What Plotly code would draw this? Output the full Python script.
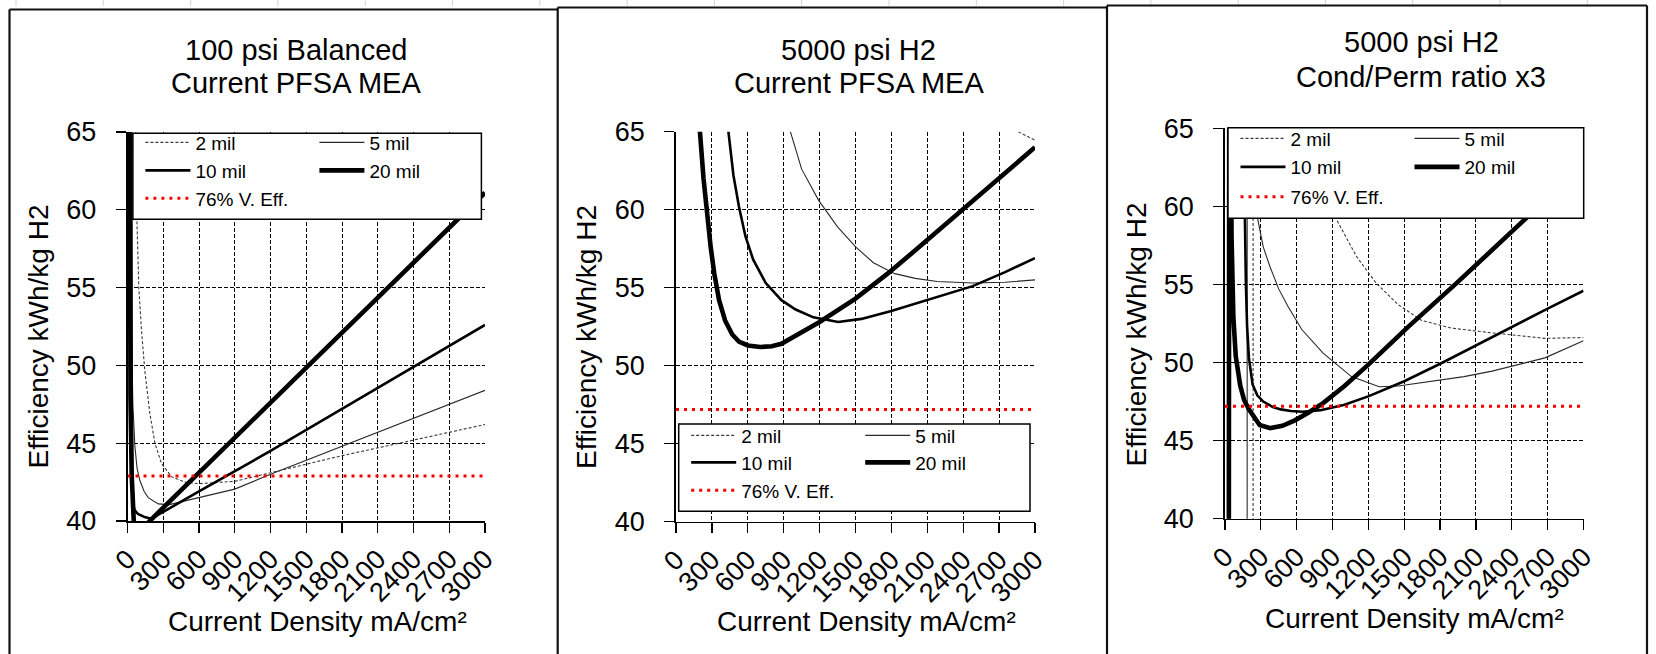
import plotly.graph_objects as go

W, H = 1656, 654
FONT = "Liberation Sans, Arial, sans-serif"

# ---------------- data ----------------
CURRENT_TICKS = [0, 300, 600, 900, 1200, 1500, 1800, 2100, 2400, 2700, 3000]
EFF_TICKS = [40, 45, 50, 55, 60, 65]
SERIES_NAMES = ["2 mil", "5 mil", "10 mil", "20 mil"]
REF_NAME = "76% V. Eff."
PANEL_TITLE_LINE1 = ["100 psi Balanced", "5000 psi H2", "5000 psi H2"]
PANEL_TITLE_LINE2 = ["Current PFSA MEA", "Current PFSA MEA", "Cond/Perm ratio x3"]
X_TITLE = "Current Density mA/cm\u00b2"
Y_TITLE = "Efficiency kWh/kg H2"

# Panel 1: 100 psi balanced, current PFSA MEA
P1_2MIL_I = [40, 60, 70, 79, 95, 117, 146, 188, 230, 285, 369, 481, 600, 900, 1200, 1800, 2400, 3000]
P1_2MIL_E = [200, 80, 64.5, 59.3, 55.0, 52.3, 49.6, 46.9, 45.0, 43.7, 42.85, 42.5, 42.4, 42.55, 43.1, 44.2, 45.2, 46.2]
P1_5MIL_I = [5, 20, 27, 34, 45, 62, 80, 104, 140, 174, 220, 258, 350, 600, 900, 1200, 1800, 2400, 3000]
P1_5MIL_E = [300, 80, 62, 52.3, 47.5, 44.8, 43.4, 42.6, 41.9, 41.5, 41.25, 41.1, 41.05, 41.5, 42.05, 43.0, 44.8, 46.6, 48.4]
P1_10MIL_I = [10, 25, 33, 40, 47, 60, 88, 144, 200, 600, 900, 1200, 1800, 2400, 3000]
P1_10MIL_E = [200, 70, 50, 42.5, 41.0, 40.7, 40.45, 40.25, 40.15, 41.9, 43.2, 44.5, 47.2, 49.9, 52.6]
P1_20MIL_I = [5, 15, 25, 35, 45, 55, 80, 130, 186, 600, 1000, 1500, 2000, 2500, 3000]
P1_20MIL_E = [120, 62, 48, 43, 40.5, 39.6, 39.3, 39.5, 40.0, 43.1, 46.1, 49.9, 53.6, 57.4, 61.1]

# Panel 2: 5000 psi H2, current PFSA MEA
P2_2MIL_I = [2600, 2860, 3000]
P2_2MIL_E = [67.5, 65.0, 64.45]
P2_5MIL_I = [900, 956, 1050, 1192, 1350, 1503, 1650, 1828, 2000, 2183, 2479, 2750, 3000]
P2_5MIL_E = [68, 65, 62.6, 60.6, 58.9, 57.6, 56.6, 55.9, 55.6, 55.4, 55.3, 55.35, 55.5]
P2_10MIL_I = [400, 438, 480, 526, 580, 645, 750, 881, 1000, 1148, 1355, 1550, 1799, 2100, 2479, 2750, 3000]
P2_10MIL_E = [72, 65, 62.2, 60.2, 58.3, 56.8, 55.3, 54.2, 53.6, 53.1, 52.8, 53.0, 53.5, 54.2, 55.1, 56.0, 56.9]
P2_20MIL_I = [150, 200, 230, 260, 290, 320, 360, 410, 470, 526, 600, 704, 800, 881, 1000, 1200, 1500, 1768, 2000, 2390, 2700, 3000]
P2_20MIL_E = [90, 65, 62.0, 59.6, 57.6, 55.9, 54.2, 52.9, 52.0, 51.55, 51.3, 51.2, 51.25, 51.4, 51.9, 52.8, 54.3, 55.9, 57.4, 60.0, 62.0, 64.0]

# Panel 3: 5000 psi H2, conductivity/permeability ratio x3
P3_2MIL_I = [235, 240, 500, 700, 937, 1100, 1263, 1450, 1645, 1900, 2235, 2677, 3000]
P3_2MIL_E = [20, 500, 90, 68, 59.1, 56.8, 55.1, 53.7, 52.7, 52.2, 51.9, 51.55, 51.6]
P3_5MIL_I = [185, 192, 230, 276, 320, 378, 450, 526, 644, 821, 1058, 1290, 1450, 1645, 2000, 2235, 2677, 3000]
P3_5MIL_E = [20, 500, 90, 59.1, 57.4, 56.1, 54.7, 53.6, 52.1, 50.6, 49.1, 48.45, 48.5, 48.7, 49.1, 49.45, 50.3, 51.4]
P3_10MIL_I = [30, 42, 100, 150, 165, 175, 185, 200, 231, 270, 320, 400, 467, 550, 650, 800, 1000, 1204, 1500, 1822, 2100, 2400, 2700, 3000]
P3_10MIL_E = [20, 400, 120, 70, 60, 55, 52.3, 50.3, 48.6, 47.9, 47.5, 47.15, 47.0, 46.9, 46.85, 46.95, 47.3, 47.85, 48.8, 50.0, 51.1, 52.3, 53.45, 54.6]
P3_20MIL_I = [30, 38, 45, 55, 62, 70, 90, 128, 160, 200, 290, 378, 480, 585, 700, 821, 1000, 1204, 1528, 1940, 2500, 3000]
P3_20MIL_E = [20, 90, 68, 58, 55, 52.9, 50.4, 48.5, 47.6, 47.0, 46.0, 45.8, 45.95, 46.3, 46.8, 47.4, 48.5, 49.9, 52.25, 55.1, 59.1, 62.6]

VEFF_76 = [42.9, 47.2, 47.2]   # 76% voltage-efficiency level per panel

PANELS = [
    [(P1_2MIL_I, P1_2MIL_E), (P1_5MIL_I, P1_5MIL_E), (P1_10MIL_I, P1_10MIL_E), (P1_20MIL_I, P1_20MIL_E)],
    [(P2_2MIL_I, P2_2MIL_E), (P2_5MIL_I, P2_5MIL_E), (P2_10MIL_I, P2_10MIL_E), (P2_20MIL_I, P2_20MIL_E)],
    [(P3_2MIL_I, P3_2MIL_E), (P3_5MIL_I, P3_5MIL_E), (P3_10MIL_I, P3_10MIL_E), (P3_20MIL_I, P3_20MIL_E)],
]

# ---------------- styles / layout geometry (pixels) ----------------
LINE_STYLES = [
    dict(color="#3a3a3a", width=1.1, dash="3px,2px"),
    dict(color="#2a2a2a", width=1.1, dash="solid"),
    dict(color="black", width=2.6, dash="solid"),
    dict(color="black", width=4.6, dash="solid"),
]
REF_STYLE = dict(color="#ff0000", width=3, dash="3px,5px")

PLOT_BOX = [  # (left, top, right, bottom) in px
    (127.5, 132.0, 485.0, 521.0),
    (676.0, 131.7, 1035.0, 521.7),
    (1225.0, 128.3, 1583.5, 518.7),
]
TITLE_X = [296, 858.6, 1421]
TITLE_Y = [(50, 83), (50, 83.3), (41.7, 76.7)]
YTITLE_POS = [(37.5, 337), (586, 337), (1136, 334.5)]
XTITLE_POS = [(317, 621.7), (866.5, 621.7), (1414, 618.3)]
LEG_BOX = [(132.9, 133.3, 481.4, 219.3), (678.7, 424.0, 1030.0, 511.3), (1228.0, 127.7, 1583.7, 218.3)]
LEG_ROWS = [(142.5, 170.5, 198.5), (435.5, 462.5, 490.5), (138.5, 167.0, 197.0)]


def fx(x):
    return x / W


def fy(y):
    return 1 - y / H


def legend_name(p, r):
    idx = 3 * p + r + 1
    return "legend" if idx == 1 else f"legend{idx}"


fig = go.Figure()
ROW_OF_SERIES = [0, 0, 1, 1]

for p in range(3):
    sfx = "" if p == 0 else str(p + 1)
    for s, (xi, ye) in enumerate(PANELS[p]):
        fig.add_trace(go.Scatter(
            x=xi, y=ye, mode="lines", name=SERIES_NAMES[s],
            line=LINE_STYLES[s], xaxis="x" + sfx, yaxis="y" + sfx,
            legend=legend_name(p, ROW_OF_SERIES[s]), hoverinfo="skip",
        ))
    fig.add_trace(go.Scatter(
        x=[CURRENT_TICKS[0], CURRENT_TICKS[-1]], y=[VEFF_76[p], VEFF_76[p]],
        mode="lines", name=REF_NAME, line=REF_STYLE,
        xaxis="x" + sfx, yaxis="y" + sfx, legend=legend_name(p, 2), hoverinfo="skip",
    ))

layout = dict(
    template="none",
    width=W, height=H, autosize=False,
    margin=dict(l=0, r=0, t=0, b=0, pad=0),
    paper_bgcolor="white", plot_bgcolor="white",
    showlegend=True,
    font=dict(family=FONT, color="black"),
)

tick_font = dict(family=FONT, size=27, color="black")
for p in range(3):
    sfx = "" if p == 0 else str(p + 1)
    l, t, r, b = PLOT_BOX[p]
    grid = dict(showgrid=True, gridcolor="black", gridwidth=1, griddash="4px,2px")
    layout["xaxis" + sfx] = dict(
        domain=[fx(l), fx(r)], anchor="y" + sfx, range=[0, 3000], automargin=False,
        tickmode="array", tickvals=CURRENT_TICKS, ticktext=[str(v) for v in CURRENT_TICKS],
        tickangle=-45, ticks="outside", ticklen=10, tickwidth=1.2, tickcolor="black",
        showline=True, linecolor="black", linewidth=1.5, zeroline=False,
        tickfont=tick_font, fixedrange=True, **grid,
    )
    layout["yaxis" + sfx] = dict(
        domain=[fy(b), fy(t)], anchor="x" + sfx, range=[40, 65], automargin=False,
        tickmode="array", tickvals=EFF_TICKS, ticktext=[str(v) for v in EFF_TICKS],
        ticks="outside", ticklen=10, tickwidth=1.2, tickcolor="black",
        showline=True, linecolor="black", linewidth=1.8, zeroline=False,
        tickfont=tick_font, fixedrange=True, ticklabelstandoff=14, **grid,
    )
    for r_ in range(3):
        layout[legend_name(p, r_)] = dict(
            x=fx(LEG_BOX[p][0] + 12.5 - 5), xanchor="left",
            y=fy(LEG_ROWS[p][r_]), yanchor="middle",
            orientation="h", bgcolor="rgba(0,0,0,0)", borderwidth=0,
            font=dict(family=FONT, size=19, color="black"),
            itemwidth=45, entrywidth=114, entrywidthmode="pixels",
            traceorder="normal",
        )

annotations = []
for p in range(3):
    for line_text, ly in ((PANEL_TITLE_LINE1[p], TITLE_Y[p][0]), (PANEL_TITLE_LINE2[p], TITLE_Y[p][1])):
        annotations.append(dict(
            text=line_text, x=fx(TITLE_X[p]), y=fy(ly),
            xref="paper", yref="paper", xanchor="center", yanchor="middle",
            showarrow=False, font=dict(family=FONT, size=29, color="black"),
        ))
    annotations.append(dict(
        text=Y_TITLE, x=fx(YTITLE_POS[p][0]), y=fy(YTITLE_POS[p][1]),
        xref="paper", yref="paper", xanchor="center", yanchor="middle",
        textangle=-90, showarrow=False, font=dict(family=FONT, size=28, color="black"),
    ))
    annotations.append(dict(
        text=X_TITLE, x=fx(XTITLE_POS[p][0]), y=fy(XTITLE_POS[p][1]),
        xref="paper", yref="paper", xanchor="center", yanchor="middle",
        showarrow=False, font=dict(family=FONT, size=28, color="black"),
    ))
layout["annotations"] = annotations

shapes = []
# faint spreadsheet column marks at the very top
for k in range(19):
    xk = 16 + 87.3 * k
    shapes.append(dict(type="line", xref="paper", yref="paper",
                       x0=fx(xk), x1=fx(xk), y0=fy(0), y1=fy(6),
                       line=dict(color="#cdd5e0", width=1), layer="below"))
# chart-area borders
BORDER = dict(color="#111111", width=2.2)
shapes += [
    dict(type="line", xref="paper", yref="paper", x0=fx(9.5), x1=fx(9.5), y0=fy(9.5), y1=fy(H + 5), line=BORDER),
    dict(type="line", xref="paper", yref="paper", x0=fx(9.5), x1=fx(557.7), y0=fy(9.5), y1=fy(9.5), line=BORDER),
    dict(type="line", xref="paper", yref="paper", x0=fx(557.7), x1=fx(557.7), y0=fy(7.5), y1=fy(H + 5), line=BORDER),
    dict(type="line", xref="paper", yref="paper", x0=fx(557.7), x1=fx(1107), y0=fy(7.5), y1=fy(7.5), line=BORDER),
    dict(type="line", xref="paper", yref="paper", x0=fx(1107), x1=fx(1107), y0=fy(5.5), y1=fy(H + 5), line=BORDER),
    dict(type="line", xref="paper", yref="paper", x0=fx(1107), x1=fx(1647), y0=fy(5.5), y1=fy(5.5), line=BORDER),
    dict(type="line", xref="paper", yref="paper", x0=fx(1647), x1=fx(1647), y0=fy(5.5), y1=fy(H + 5), line=BORDER),
]
# legend boxes (white, framed) drawn above the data
for p in range(3):
    l, t, r, b = LEG_BOX[p]
    shapes.append(dict(type="rect", xref="paper", yref="paper",
                       x0=fx(l), x1=fx(r), y0=fy(b), y1=fy(t),
                       fillcolor="white", line=dict(color="black", width=1.5), layer="above"))
layout["shapes"] = shapes

fig.update_layout(**layout)
fig.write_html("out.html", include_plotlyjs=True, config={"displayModeBar": False, "staticPlot": True})
